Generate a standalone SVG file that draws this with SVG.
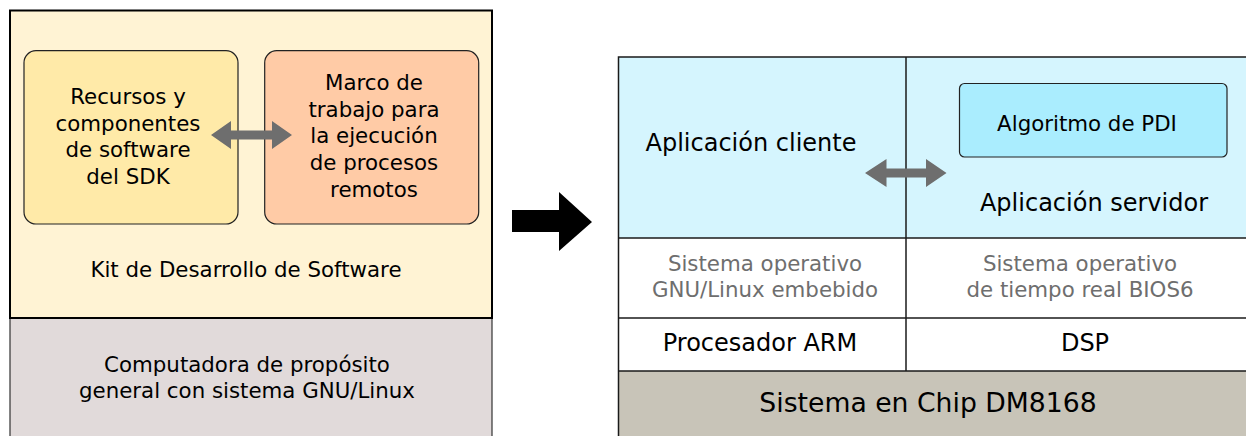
<svg xmlns="http://www.w3.org/2000/svg" width="1246" height="436" viewBox="0 0 1246 436">
<style>
text{font-family:"DejaVu Sans","Liberation Sans",sans-serif;fill:#000;text-anchor:middle}
.t21{font-size:21.33px}
.t24{font-size:24px}
.t26{font-size:26.67px}
.gray{fill:#6e6e6e}
.line{stroke:#1a1a1a;stroke-width:1.5;fill:none}
.dbl{fill:#6e6e6e}
</style>
<rect width="1246" height="436" fill="#fff"/>
<g id="host-pc">
<rect x="10" y="318" width="482" height="130" fill="#e1dada" stroke="#333" stroke-width="1.2"/>
<text class="t21" x="247" y="371.7">Computadora de propósito</text>
<text class="t21" x="247" y="398.3">general con sistema GNU/Linux</text>
</g>
<g id="sdk">
<rect x="10" y="10.5" width="482" height="307.5" fill="#fff3d4" stroke="#000" stroke-width="2"/>
<text class="t21" x="246" y="277">Kit de Desarrollo de Software</text>
</g>
<g id="recursos">
<rect x="24" y="50.7" width="214" height="173.3" rx="12" fill="#ffeaa8" stroke="#222" stroke-width="1.2"/>
<text class="t21" x="128" y="104">Recursos y</text>
<text class="t21" x="128" y="130.7">componentes</text>
<text class="t21" x="128" y="157.3">de software</text>
<text class="t21" x="128" y="184">del SDK</text>
</g>
<g id="marco">
<rect x="264.7" y="50.7" width="214" height="173.3" rx="12" fill="#ffcba6" stroke="#222" stroke-width="1.2"/>
<text class="t21" x="374" y="90">Marco de</text>
<text class="t21" x="374" y="116.7">trabajo para</text>
<text class="t21" x="374" y="143.3">la ejecución</text>
<text class="t21" x="374" y="170">de procesos</text>
<text class="t21" x="374" y="196.7">remotos</text>
</g>
<g id="soc">
<rect x="618.5" y="57" width="640" height="181" fill="#d5f5fe"/>
<rect x="618.5" y="238" width="640" height="133" fill="#fff"/>
<rect x="618.5" y="371" width="640" height="80" fill="#c8c4b8"/>
<rect x="618.5" y="57" width="640" height="400" class="line"/>
<line x1="618.5" y1="238" x2="1246" y2="238" class="line"/>
<line x1="618.5" y1="318" x2="1246" y2="318" class="line"/>
<line x1="618.5" y1="371" x2="1246" y2="371" class="line"/>
<line x1="906" y1="57" x2="906" y2="371" class="line"/>
<text class="t26" x="928" y="412">Sistema en Chip DM8168</text>
</g>
<g id="cliente">
<text class="t24" x="751" y="151">Aplicación cliente</text>
</g>
<g id="servidor">
<text class="t24" x="1094" y="210.7">Aplicación servidor</text>
</g>
<g id="algoritmo">
<rect x="959.5" y="83.5" width="267.5" height="73.5" rx="5" fill="#aaedfe" stroke="#222" stroke-width="1.2"/>
<text class="t21" x="1087" y="130.7">Algoritmo de PDI</text>
</g>
<g id="so-linux">
<text class="t21 gray" x="765" y="270.7">Sistema operativo</text>
<text class="t21 gray" x="765" y="297.3">GNU/Linux embebido</text>
</g>
<g id="so-bios">
<text class="t21 gray" x="1080" y="270.7">Sistema operativo</text>
<text class="t21 gray" x="1080" y="297.3">de tiempo real BIOS6</text>
</g>
<g id="arm">
<text class="t24" x="760" y="350.7">Procesador ARM</text>
</g>
<g id="dsp">
<text class="t24" x="1085" y="350.7">DSP</text>
</g>
<g id="connectors">
<polygon class="dbl" points="211,135 231,121 231,130.5 272,130.5 272,121 292,135 272,149 272,139.5 231,139.5 231,149"/>
<polygon class="dbl" points="865,173 886.5,159 886.5,168.5 926,168.5 926,159 946.5,173 926,187 926,177.5 886.5,177.5 886.5,187"/>
<polygon fill="#000" points="512,210 559,210 559,192 592,222 559,251 559,232 512,232"/>
</g>
</svg>
